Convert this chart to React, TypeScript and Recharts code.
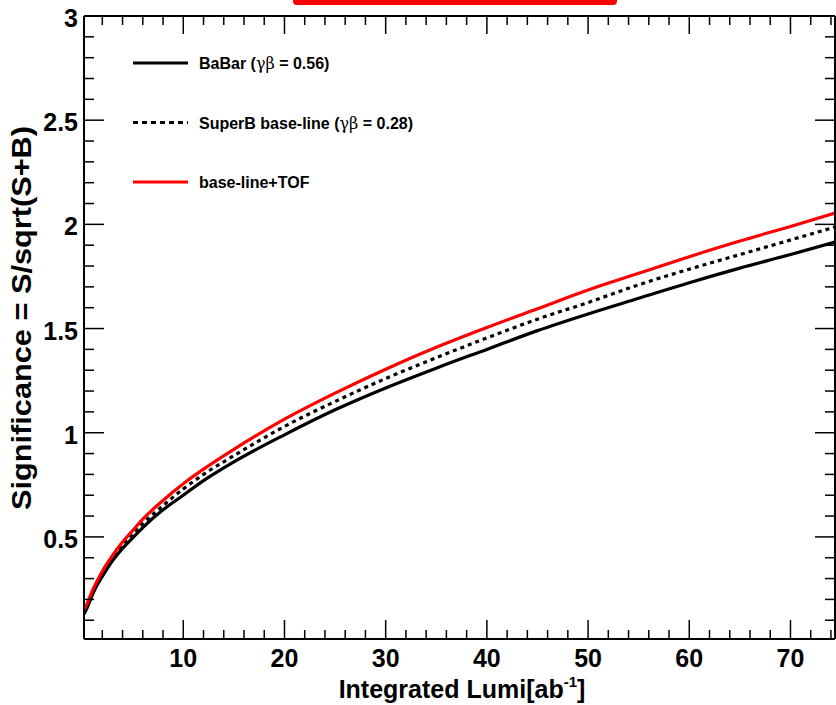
import React from 'react';
import { LineChart, Line, XAxis, YAxis } from 'recharts';

const FONT = '"Liberation Sans", Arial, Helvetica, sans-serif';

// Integrated luminosity [ab^-1]
const lumi = [0.19, 0.5, 1, 1.5, 2, 3, 4, 5, 6, 8, 10, 12, 15, 20, 25, 30, 35, 40, 45, 50, 55, 60, 65, 70, 74.4];
// BaBar (γβ = 0.56)
const babar = [0.13, 0.16, 0.22, 0.27, 0.31, 0.385, 0.445, 0.495, 0.545, 0.63, 0.70, 0.77, 0.86, 0.99, 1.11, 1.215, 1.31, 1.40, 1.49, 1.57, 1.645, 1.72, 1.79, 1.855, 1.915];
// SuperB base-line (γβ = 0.28)
const superb = [0.14, 0.17, 0.23, 0.28, 0.325, 0.40, 0.46, 0.515, 0.565, 0.65, 0.73, 0.80, 0.89, 1.03, 1.15, 1.26, 1.36, 1.455, 1.545, 1.625, 1.71, 1.785, 1.855, 1.925, 1.987];
// base-line+TOF
const tof = [0.15, 0.18, 0.24, 0.29, 0.335, 0.41, 0.475, 0.53, 0.585, 0.675, 0.755, 0.825, 0.92, 1.065, 1.19, 1.305, 1.41, 1.505, 1.595, 1.685, 1.765, 1.845, 1.92, 1.99, 2.054];

const xMajorTicks = [10, 20, 30, 40, 50, 60, 70];
const xAllTicks = [2, 4, 6, 8, 10, 12, 14, 16, 18, 20, 22, 24, 26, 28, 30, 32, 34, 36, 38, 40, 42, 44, 46, 48, 50, 52, 54, 56, 58, 60, 62, 64, 66, 68, 70, 72, 74];
const yMajorTicks = [0.5, 1, 1.5, 2, 2.5, 3];
const yAllTicks = [0.1, 0.2, 0.3, 0.4, 0.5, 0.6, 0.7, 0.8, 0.9, 1, 1.1, 1.2, 1.3, 1.4, 1.5, 1.6, 1.7, 1.8, 1.9, 2, 2.1, 2.2, 2.3, 2.4, 2.5, 2.6, 2.7, 2.8, 2.9, 3];
const yTickLabels = ['0.5', '1', '1.5', '2', '2.5', '3'];

const xDomain: [number, number] = [0.19, 74.4];
const yDomain: [number, number] = [0.01, 3];

const data = lumi.map((l, i) => ({ lumi: l, babar: babar[i], superb: superb[i], tof: tof[i] }));

const legendItems = [
  { name: 'BaBar (', greek: 'γβ', rest: ' = 0.56)', color: '#000', dash: undefined as string | undefined },
  { name: 'SuperB base-line (', greek: 'γβ', rest: ' = 0.28)', color: '#000', dash: '5 4' },
  { name: 'base-line+TOF', greek: '', rest: '', color: '#ff0000', dash: undefined },
];

const isMajor = (list: number[], v: number) => list.some((m) => Math.abs(m - v) < 1e-6);

const BottomTick = (p: any) => {
  const v = p.payload.value;
  const major = isMajor(xMajorTicks, v);
  return (
    <g>
      <line x1={p.x} x2={p.x} y1={p.y} y2={p.y - (major ? 19 : 9)} stroke="#000" strokeWidth={1.5} />
      {major ? (
        <text x={p.x} y={p.y + 28} textAnchor="middle" fontSize={25} fontWeight="bold" fontFamily={FONT} fill="#000">{v}</text>
      ) : null}
    </g>
  );
};
const TopTick = (p: any) => {
  const v = p.payload.value;
  const major = isMajor(xMajorTicks, v);
  return <line x1={p.x} x2={p.x} y1={p.y} y2={p.y + (major ? 18 : 9)} stroke="#000" strokeWidth={1.5} />;
};
const LeftTick = (p: any) => {
  const v = p.payload.value;
  const idx = yMajorTicks.findIndex((m) => Math.abs(m - v) < 1e-6);
  const major = idx >= 0;
  return (
    <g>
      <line x1={p.x} x2={p.x + (major ? 20 : 10)} y1={p.y} y2={p.y} stroke="#000" strokeWidth={1.5} />
      {major ? (
        <text x={p.x - 6} y={p.y + 11} textAnchor="end" fontSize={25} fontWeight="bold" fontFamily={FONT} fill="#000">{yTickLabels[idx]}</text>
      ) : null}
    </g>
  );
};
const RightTick = (p: any) => {
  const v = p.payload.value;
  const major = isMajor(yMajorTicks, v);
  return <line x1={p.x} x2={p.x - (major ? 20 : 10)} y1={p.y} y2={p.y} stroke="#000" strokeWidth={1.5} />;
};

const axisStroke = { stroke: '#000', strokeWidth: 2 };

export default function App() {
  return (
    <div style={{ position: 'absolute', left: 0, top: 0, width: 836, height: 705, background: '#fff', overflow: 'hidden', fontFamily: FONT }}>
      <LineChart width={836} height={705} data={data} margin={{ top: 15, right: 0, left: 83, bottom: 65 }}>
        <XAxis xAxisId="b" dataKey="lumi" type="number" domain={xDomain} allowDataOverflow ticks={xAllTicks} interval={0}
          height={1} tickSize={0} tickMargin={0} tickLine={false} axisLine={axisStroke} tick={<BottomTick />} />
        <XAxis xAxisId="t" orientation="top" dataKey="lumi" type="number" domain={xDomain} allowDataOverflow ticks={xAllTicks} interval={0}
          height={1} tickSize={0} tickMargin={0} tickLine={false} axisLine={axisStroke} tick={<TopTick />} />
        <YAxis yAxisId="l" type="number" domain={yDomain} allowDataOverflow ticks={yAllTicks} interval={0}
          width={1} tickSize={0} tickMargin={0} tickLine={false} axisLine={axisStroke} tick={<LeftTick />} />
        <YAxis yAxisId="r" orientation="right" type="number" domain={yDomain} allowDataOverflow ticks={yAllTicks} interval={0}
          width={1} tickSize={0} tickMargin={0} tickLine={false} axisLine={axisStroke} tick={<RightTick />} />

        <Line xAxisId="t" yAxisId="r" type="monotone" dataKey="babar" stroke="none" strokeWidth={0} dot={false} isAnimationActive={false} legendType="none" />
        <Line xAxisId="b" yAxisId="l" type="monotone" dataKey="babar" stroke="#000" strokeWidth={3.2} dot={false} isAnimationActive={false} />
        <Line xAxisId="b" yAxisId="l" type="monotone" dataKey="superb" stroke="#000" strokeWidth={3.2} strokeDasharray="4 4" dot={false} isAnimationActive={false} />
        <Line xAxisId="b" yAxisId="l" type="monotone" dataKey="tof" stroke="#ff0000" strokeWidth={3.2} dot={false} isAnimationActive={false} />
      </LineChart>

      {/* title box (cut at top) */}
      <div style={{ position: 'absolute', left: 293, top: -10, width: 324, height: 15, background: '#ff0000', borderRadius: 4 }} />

      <svg width={836} height={705} style={{ position: 'absolute', left: 0, top: 0, pointerEvents: 'none' }}>
        {legendItems.map((it, i) => {
          const y = 63 + i * 59.5;
          return (
            <g key={i}>
              <line x1={133} x2={188} y1={y} y2={y} stroke={it.color} strokeWidth={3} strokeDasharray={it.dash} />
              <text x={199} y={y + 6} fontSize={16} fontWeight="bold" fontFamily={FONT} fill="#000">
                {it.name}
                {it.greek ? <tspan fontWeight="normal" fontFamily='"DejaVu Serif", serif'>{it.greek}</tspan> : null}
                {it.rest}
              </text>
            </g>
          );
        })}
        <text transform="translate(31,318) rotate(-90)" textAnchor="middle" fontSize={27} fontWeight="bold" fontFamily={FONT} fill="#000"
          textLength={384} lengthAdjust="spacingAndGlyphs">
          Significance = S/sqrt(S+B)
        </text>
        <text x={462} y={698} textAnchor="middle" fontSize={25} fontWeight="bold" fontFamily={FONT} fill="#000">
          Integrated Lumi[ab<tspan dy={-11} fontSize={15}>-1</tspan><tspan dy={11}>]</tspan>
        </text>
      </svg>
    </div>
  );
}
